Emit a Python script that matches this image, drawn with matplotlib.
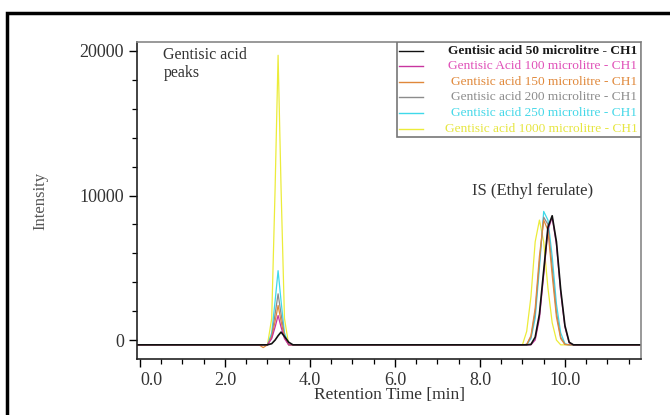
import matplotlib
matplotlib.use("Agg")
import matplotlib.pyplot as plt
from matplotlib.patches import Rectangle
from matplotlib.ticker import MultipleLocator, FixedFormatter, FixedLocator

# retention time grid (min)
rt = [-0.07, 2.8, 2.9, 3.0, 3.1, 3.18, 3.25, 3.32, 3.4, 3.5, 3.6,
      8.9, 9.0, 9.1, 9.2, 9.3, 9.4, 9.5, 9.6, 9.7, 9.8, 9.9, 10.0, 10.1, 10.2, 10.3, 11.79]

labels = [
    "Gentisic acid 50 microlitre - CH1",
    "Gentisic Acid 100 microlitre - CH1",
    "Gentisic acid 150 microlitre - CH1",
    "Gentisic acid 200 microlitre - CH1",
    "Gentisic acid 250 microlitre - CH1",
    "Gentisic acid 1000 microlitre - CH1",
]
colors = ["#111111", "#c8359f", "#e0883a", "#8c8c8c", "#3fd9ea", "#ecec3a"]
text_colors = ["#1a1a1a", "#e050b8", "#e0883a", "#8c8c8c", "#45d8e8", "#e6e640"]

ga_50 = [-330, -330, -330, -330, -250, 0, 300, 550, 250, -150, -330,
         -330, -330, -330, -300, 200, 1800, 4800, 7800, 8600, 6800, 3500, 1000, -150, -330, -330, -330]
ga_100 = [-330, -330, -330, -330, 100, 900, 1700, 900, 100, -330, -330,
          -330, -330, -330, -330, 0, 1500, 4500, 7600, 8500, 6600, 3300, 900, -200, -330, -330, -330]
ga_150 = [-330, -330, -520, -330, 200, 1300, 2400, 1300, 200, -330, -330,
          -330, -330, -300, 300, 2200, 5800, 8300, 7600, 4500, 1600, 100, -300, -330, -330, -330, -330]
ga_200 = [-330, -330, -330, -330, 300, 1800, 3200, 1800, 300, -330, -330,
          -330, -330, -300, 200, 1900, 5400, 8500, 8000, 5000, 1900, 200, -300, -330, -330, -330, -330]
ga_250 = [-330, -330, -330, -330, 500, 2700, 4800, 2700, 500, -330, -330,
          -330, -330, -330, 100, 1500, 5000, 8900, 8300, 5800, 2500, 500, -250, -330, -330, -330, -330]
ga_1000 = [-330, -330, -330, -330, 1500, 10500, 19700, 10500, 1500, -330, -330,
           -330, -330, 600, 3000, 6800, 8300, 6800, 3600, 1200, 0, -330, -330, -330, -330, -330, -330]
series = [ga_50, ga_100, ga_150, ga_200, ga_250, ga_1000]

fig = plt.figure(figsize=(6.7, 4.15), dpi=100)
ax = fig.add_axes([137 / 670, 56 / 415, 504 / 670, 317 / 415])
plt.rcParams["font.family"] = ["Liberation Serif", "DejaVu Serif"]

# draw largest first so the black trace sits on top
for y, c in reversed(list(zip(series, colors))):
    lw = 1.2 if c == "#111111" else 0.9
    ax.plot(rt, y, color=c, lw=lw)

ax.set_xlim(-0.07, 11.79)
ax.set_ylim(-1310, 20620)
ax.xaxis.set_major_locator(FixedLocator([0, 2, 4, 6, 8, 10]))
ax.xaxis.set_major_formatter(FixedFormatter(["0.0", "2.0", "4.0", "6.0", "8.0", "10.0"]))
ax.xaxis.set_minor_locator(MultipleLocator(0.5))
ax.yaxis.set_major_locator(MultipleLocator(10000))
ax.yaxis.set_minor_locator(MultipleLocator(2000))
ax.tick_params(which="major", direction="out", length=6, width=1, labelsize=13,
               labelcolor="#333333", labelfontfamily="Liberation Serif")
ax.tick_params(which="minor", direction="out", length=3.5, width=0.9)
ax.tick_params(axis="x", pad=3)
ax.xaxis.get_majorticklabels()[0].set_horizontalalignment("left")

for s in ["top", "right"]:
    ax.spines[s].set_color("#888888")
    ax.spines[s].set_linewidth(1.2)
for s in ["left", "bottom"]:
    ax.spines[s].set_color("#222222")
    ax.spines[s].set_linewidth(1.2)

ax.set_xlabel("Retention Time [min]", fontsize=12.5, color="#333333",
              family="Liberation Serif", labelpad=-1)
ax.set_ylabel("Intensity", fontsize=12, color="#555555",
              family="Liberation Serif", labelpad=22)

ax.text(0.55, 20250, "Gentisic acid\npeaks", fontsize=11.5, color="#333333",
        family="Liberation Serif", va="top", ha="left", linespacing=1.1)
ax.text(7.82, 10280, "IS (Ethyl ferulate)", fontsize=12, color="#333333",
        family="Liberation Serif", va="center", ha="left")

# hand-placed legend: lines left, text right aligned
lx0, ly0 = 0.516, 0.70
ax.add_patch(Rectangle((lx0, ly0), 1 - lx0, 1 - ly0, transform=ax.transAxes,
                       facecolor="white", edgecolor="#777777", lw=1.2, zorder=5))
for i, (lab, c, tc) in enumerate(zip(labels, colors, text_colors)):
    yy = 0.972 - i * 0.049
    ax.plot([0.52, 0.567], [yy, yy], transform=ax.transAxes, color=c, lw=1.0, zorder=6)
    ax.text(0.993, yy, lab, transform=ax.transAxes, ha="right", va="center",
            fontsize=9.6, color=tc, family="Liberation Serif", zorder=6,
            fontweight="bold" if i == 0 else "normal")

# outer black frame of the figure (right/bottom run off the picture)
fig.add_artist(Rectangle((7 / 670, -0.2), 1.2, 1.2 + (415 - 13) / 415 - 1.0,
                         transform=fig.transFigure, fill=False, lw=2.5, edgecolor="black"))

fig.savefig("out.png", dpi=100)
